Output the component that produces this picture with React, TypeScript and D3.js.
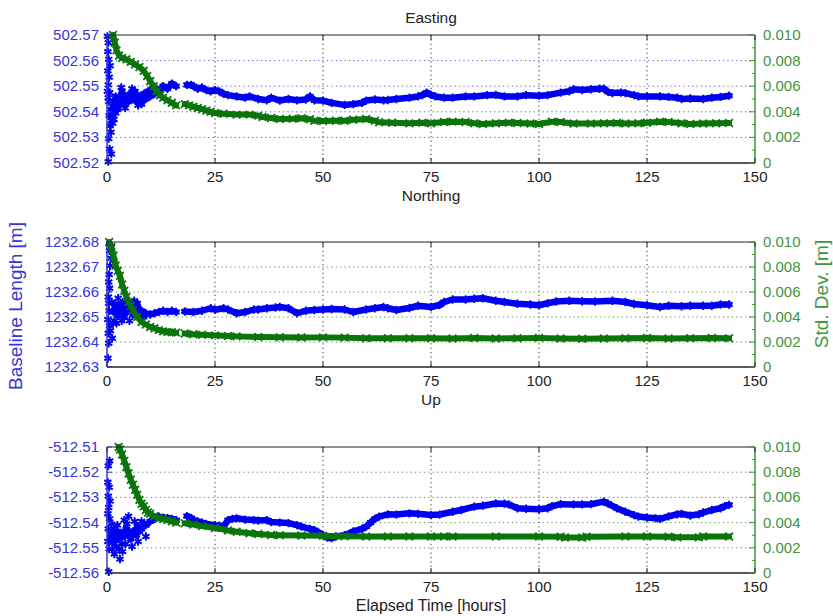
import * as d3 from "d3";

type Pt = [number, number];
const GAP: Pt = [NaN, NaN];

const X_TICKS = [0, 25, 50, 75, 100, 125, 150];
const STD_TICKS = [0, 0.002, 0.004, 0.006, 0.008, 0.01];
const STD_MINOR = [0.001, 0.003, 0.005, 0.007, 0.009];

const EAST_TICKS = [502.52, 502.53, 502.54, 502.55, 502.56, 502.57];
const NORTH_TICKS = [1232.63, 1232.64, 1232.65, 1232.66, 1232.67, 1232.68];
const UP_TICKS = [-512.56, -512.55, -512.54, -512.53, -512.52, -512.51];

// Easting
const eastScatter: Pt[] = [
  [0.1, 502.5695], [0.3, 502.567], [0.2, 502.5635], [0.4, 502.5605], [0.2, 502.556], [0.5, 502.5535],
  [0.3, 502.5505], [0.1, 502.548], [0.6, 502.5475], [0.4, 502.544], [0.8, 502.541], [0.5, 502.5385],
  [1.0, 502.5365], [0.7, 502.5345], [1.3, 502.5355], [0.9, 502.532], [0.4, 502.5295], [0.6, 502.5255],
  [1.0, 502.5235], [0.3, 502.5205], [1.2, 502.539], [1.6, 502.537], [2.0, 502.5395], [0.7, 502.558],
  [0.3, 502.5455], [2.6, 502.5425], [3.3, 502.5495], [4.2, 502.5415], [5.8, 502.549], [7.2, 502.5425],
];
const eastBase: Pt[] = [
  [1.5, 502.542], [2, 502.546], [2.5, 502.541], [3, 502.545], [3.5, 502.548], [4, 502.543], [4.5, 502.546],
  [5, 502.544], [5.5, 502.547], [6, 502.545], [6.5, 502.548], [7, 502.544], [7.5, 502.546], [8, 502.543],
  [8.5, 502.547], [9, 502.545], [9.5, 502.548], [10, 502.546], [10.5, 502.549], [11, 502.547], [11.5, 502.549],
  [12, 502.548], [13, 502.55], [14, 502.549], [15, 502.551], [16, 502.55], GAP,
  [18.5, 502.5505], [19.5, 502.5505], [20, 502.55], [21, 502.549], [22, 502.5495], [23, 502.5485], [24, 502.548],
  [25, 502.5485], [26, 502.548], [27, 502.547], [28, 502.5465], [30, 502.546], [32, 502.5455], [33, 502.546],
  [35, 502.545], [37, 502.5445], [38, 502.5455], [40, 502.5444], [42, 502.545], [44, 502.5445], [46, 502.5448],
  [47, 502.546], [48, 502.5445], [50, 502.5444], [52, 502.5435], [55, 502.5427], [57, 502.543], [59, 502.5435],
  [60, 502.5444], [62, 502.5448], [64, 502.5445], [65, 502.5446], [67, 502.545], [70, 502.5455], [72, 502.546],
  [73, 502.5465], [74, 502.5475], [75, 502.5466], [76, 502.546], [78, 502.5455], [80, 502.5455], [83, 502.546],
  [85, 502.546], [88, 502.5465], [90, 502.5466], [92, 502.546], [95, 502.546], [97, 502.5465], [100, 502.5463],
  [102, 502.5465], [105, 502.5475], [107, 502.548], [108, 502.5488], [110, 502.5485], [112, 502.5488],
  [114, 502.549], [115, 502.549], [116, 502.5478], [117, 502.5473], [119, 502.5475], [120, 502.5473],
  [122, 502.5465], [123, 502.546], [125, 502.546], [128, 502.546], [130, 502.5458], [132, 502.5455],
  [133, 502.545], [135, 502.5452], [138, 502.545], [140, 502.5455], [142, 502.5458], [144, 502.5463],
];
const eastStd: Pt[] = [
  [1.4, 0.01], [1.8, 0.0094], [2.2, 0.0088], [2.8, 0.0084], [3.5, 0.0082], [4.5, 0.0081], [5.5, 0.0079],
  [6.5, 0.0077], [7.5, 0.0075], [8.5, 0.0072], [9.3, 0.0068], [10, 0.0064], [10.8, 0.006], [11.5, 0.0056],
  [12.3, 0.0053], [13, 0.0051], [14, 0.0049], [15, 0.0047], [16, 0.0045], GAP,
  [18, 0.0046], [19, 0.0045], [20, 0.0044], [21, 0.0043], [22, 0.0042], [23, 0.0041], [24, 0.004], [25, 0.0039],
  [27, 0.00385], [30, 0.00378], [33, 0.00378], [35, 0.0037], [36, 0.0036], [38, 0.00352], [40, 0.00344],
  [43, 0.00346], [45, 0.0035], [47, 0.00342], [48, 0.0033], [50, 0.00328], [53, 0.0033], [55, 0.0033],
  [57, 0.00338], [60, 0.00344], [62, 0.0033], [63, 0.00318], [66, 0.00315], [70, 0.0031], [73, 0.00315],
  [75, 0.0031], [78, 0.0032], [80, 0.00323], [83, 0.0032], [85, 0.0031], [87, 0.00305], [90, 0.0031],
  [93, 0.00315], [95, 0.00313], [98, 0.00308], [100, 0.00305], [103, 0.00323], [105, 0.0032], [108, 0.00308],
  [112, 0.00308], [115, 0.0031], [118, 0.00313], [120, 0.00308], [123, 0.0031], [125, 0.00315], [128, 0.00323],
  [130, 0.0032], [133, 0.0031], [135, 0.00305], [138, 0.00308], [141, 0.0031], [144, 0.00313],
];

// Northing
const northScatter: Pt[] = [
  [0.2, 1232.6335], [0.4, 1232.6395], [0.3, 1232.6435], [0.6, 1232.6465], [0.2, 1232.649], [0.5, 1232.6525],
  [0.4, 1232.6555], [0.3, 1232.658], [0.6, 1232.6615], [0.4, 1232.664], [0.5, 1232.667], [0.7, 1232.6705],
  [0.9, 1232.6735], [0.6, 1232.6765], [1.0, 1232.678], [1.2, 1232.6415], [0.8, 1232.6445], [1.4, 1232.6475],
  [1.1, 1232.656], [1.7, 1232.6485], [2.2, 1232.6475], [2.6, 1232.6575], [3.4, 1232.6485], [4.3, 1232.6565],
  [5.2, 1232.6485], [6.3, 1232.6565],
];
const northBase: Pt[] = [
  [1.5, 1232.652], [2, 1232.655], [2.5, 1232.6505], [3, 1232.6545], [3.5, 1232.6555], [4, 1232.65],
  [4.5, 1232.6535], [5, 1232.6525], [5.5, 1232.655], [6, 1232.651], [6.5, 1232.6545], [7, 1232.6555],
  [7.5, 1232.6505], [8, 1232.6525], [8.5, 1232.65], [9, 1232.6515], [10, 1232.651], [11, 1232.6515],
  [12, 1232.652], [13, 1232.6525], [14, 1232.652], [15, 1232.6525], [16, 1232.652], GAP,
  [18, 1232.6522], [20, 1232.652], [22, 1232.6525], [24, 1232.6535], [25, 1232.6529], [27, 1232.6535],
  [28, 1232.653], [30, 1232.6515], [32, 1232.652], [34, 1232.653], [35, 1232.653], [37, 1232.6535],
  [39, 1232.6538], [40, 1232.654], [42, 1232.6535], [44, 1232.6515], [46, 1232.6525], [48, 1232.6528],
  [50, 1232.653], [52, 1232.6532], [55, 1232.653], [57, 1232.652], [60, 1232.653], [62, 1232.6535],
  [64, 1232.654], [65, 1232.6535], [67, 1232.6528], [70, 1232.6536], [72, 1232.6545], [75, 1232.654],
  [77, 1232.6548], [78, 1232.656], [80, 1232.657], [83, 1232.657], [85, 1232.6573], [87, 1232.6575],
  [90, 1232.6565], [92, 1232.656], [95, 1232.6553], [98, 1232.655], [100, 1232.6547], [102, 1232.6555],
  [104, 1232.6562], [107, 1232.6565], [110, 1232.6563], [113, 1232.6562], [117, 1232.6565], [120, 1232.656],
  [122, 1232.6552], [125, 1232.6547], [128, 1232.654], [130, 1232.6545], [133, 1232.6543], [135, 1232.6545],
  [138, 1232.6545], [140, 1232.6545], [142, 1232.655], [144, 1232.655],
];
const northStd: Pt[] = [
  [0.5, 0.01], [1, 0.0096], [1.5, 0.0089], [2, 0.0081], [2.5, 0.0077], [3, 0.0073], [3.5, 0.0066], [4, 0.0061],
  [4.5, 0.0056], [5, 0.0052], [5.5, 0.0049], [6, 0.00455], [7, 0.004], [8, 0.0036], [9, 0.0034], [10, 0.0032],
  [11, 0.0031], [12, 0.00295], [13, 0.00285], [14, 0.0028], [15, 0.00278], [16, 0.00275], GAP,
  [18, 0.00268], [20, 0.00262], [22, 0.00258], [25, 0.00253], [28, 0.00248], [30, 0.00245], [35, 0.0024],
  [40, 0.00238], [45, 0.00236], [50, 0.00237], [55, 0.00235], [60, 0.0023], [65, 0.0023], [70, 0.0023],
  [75, 0.0023], [80, 0.00228], [85, 0.00232], [90, 0.00228], [95, 0.0023], [100, 0.00233], [105, 0.00228],
  [110, 0.00226], [115, 0.00228], [120, 0.0023], [125, 0.00232], [130, 0.00228], [135, 0.0023], [140, 0.00232],
  [144, 0.0023],
];

// Up
const upScatter: Pt[] = [
  [0.3, -512.5175], [0.6, -512.5155], [0.2, -512.524], [0.5, -512.526], [0.3, -512.5295], [0.7, -512.5315],
  [0.4, -512.534], [0.2, -512.5365], [0.6, -512.5385], [0.3, -512.5425], [0.8, -512.5445], [0.2, -512.5475],
  [0.5, -512.5505], [0.4, -512.5595], [1.0, -512.5405], [1.3, -512.548], [1.7, -512.5525], [2.2, -512.5495],
  [2.6, -512.5455], [3.0, -512.5545], [3.4, -512.5485], [4.0, -512.539], [4.6, -512.5405], [5.2, -512.5445],
  [1.5, -512.5425], [2.0, -512.5445], [1.2, -512.5505], [2.8, -512.5505], [3.6, -512.5515], [4.3, -512.5485],
  [5.0, -512.5375], [5.8, -512.5495], [6.4, -512.5395], [7.2, -512.5475], [8.0, -512.5395], [9.0, -512.5455],
  [2.4, -512.541], [3.8, -512.5435], [6.8, -512.545],
];
const upBase: Pt[] = [
  [1, -512.546], [1.5, -512.544], [2, -512.547], [2.5, -512.5435], [3, -512.546], [3.5, -512.5445],
  [4, -512.5455], [4.5, -512.5425], [5, -512.5435], [5.5, -512.5465], [6, -512.5435], [6.5, -512.5445],
  [7, -512.5415], [7.5, -512.5435], [8, -512.5425], [8.5, -512.5405], [9, -512.541], [10, -512.5395],
  [11, -512.5385], [12, -512.5376], [13, -512.538], [14, -512.5382], [15, -512.5385], [16, -512.539], GAP,
  [18.5, -512.5374], [19.5, -512.5382], [20, -512.539], [21, -512.5395], [22, -512.54], [23, -512.5405],
  [25, -512.541], [26, -512.5412], [27, -512.5416], [28, -512.539], [29, -512.5385], [30, -512.5383],
  [32, -512.5388], [34, -512.539], [35, -512.5392], [37, -512.539], [38, -512.5398], [40, -512.54],
  [42, -512.5402], [44, -512.541], [45, -512.5416], [47, -512.5425], [48, -512.543], [49, -512.544],
  [50, -512.545], [51, -512.546], [52, -512.5462], [53, -512.5455], [55, -512.545], [57, -512.5435],
  [59, -512.5425], [60, -512.5416], [61, -512.54], [62, -512.5385], [63, -512.5376], [65, -512.5367],
  [67, -512.5368], [70, -512.5363], [72, -512.5365], [75, -512.537], [77, -512.5368], [80, -512.5357],
  [82, -512.535], [85, -512.5337], [87, -512.5333], [90, -512.5324], [92, -512.5325], [93, -512.5328],
  [95, -512.5343], [97, -512.5345], [100, -512.5347], [102, -512.5343], [103, -512.5335], [105, -512.5327],
  [108, -512.5328], [110, -512.5328], [112, -512.5327], [115, -512.5317], [116, -512.5325], [118, -512.5343],
  [120, -512.5357], [122, -512.537], [123, -512.5376], [125, -512.538], [127, -512.5383], [128, -512.5385],
  [130, -512.5375], [132, -512.5367], [133, -512.5365], [135, -512.5372], [137, -512.5367], [138, -512.536],
  [140, -512.535], [142, -512.5343], [143, -512.5335], [144, -512.533],
];
const upStd: Pt[] = [
  [2.7, 0.01], [3, 0.0098], [3.5, 0.0094], [4, 0.0089], [4.5, 0.0084], [5, 0.0079], [5.5, 0.0074], [6, 0.007],
  [6.5, 0.0066], [7, 0.0062], [7.5, 0.0058], [8, 0.0055], [8.5, 0.0053], [9, 0.005], [9.5, 0.0048], [10, 0.0047],
  [11, 0.0045], [12, 0.00435], [13, 0.00428], [14, 0.0042], [15, 0.0041], [16, 0.004], GAP,
  [18, 0.00395], [20, 0.00385], [22, 0.00372], [25, 0.00357], [28, 0.00338], [30, 0.00328], [33, 0.00315],
  [35, 0.0031], [38, 0.00302], [40, 0.003], [45, 0.00298], [50, 0.00295], [55, 0.00292], [60, 0.0029],
  [65, 0.00289], [70, 0.00289], [75, 0.0029], [78, 0.0029], [80, 0.00289], [90, 0.00289], [100, 0.00289],
  [105, 0.00287], [106, 0.00282], [110, 0.00282], [111, 0.00288], [120, 0.00289], [125, 0.00289],
  [130, 0.00288], [132, 0.00283], [137, 0.00283], [138, 0.00289], [144, 0.00289],
];

const BLUE = "#0000f0";
const GREEN = "#0b740b";
const BLUE_TXT = "#3535d8";
const GREEN_TXT = "#3c963c";
const FONT = "'Liberation Sans', Arial, Helvetica, sans-serif";

const x = d3.scaleLinear().domain([0, 150]).range([107, 755]);
const star = d3.symbol(d3.symbolAsterisk, 48)()!;
const cross = d3.symbol(d3.symbolTimes, 40)()!;

function Panel({ top, bottom, title, titleY, ticks, scatter, base, std, gridColor }: {
  top: number; bottom: number; title: string; titleY: number; ticks: number[];
  scatter: Pt[]; base: Pt[]; std: Pt[]; gridColor: string;
}) {
  const yL = d3.scaleLinear().domain([ticks[0], ticks[ticks.length - 1]]).range([bottom, top]);
  const yR = d3.scaleLinear().domain([0, 0.01]).range([bottom, top]);
  const [x0, x1] = x.range();
  const lineL = d3.line<Pt>().defined((d) => !isNaN(d[1])).x((d) => x(d[0])).y((d) => yL(d[1]));
  const lineR = d3.line<Pt>().defined((d) => !isNaN(d[1])).x((d) => x(d[0])).y((d) => yR(d[1]));
  const baseOk = base.filter((d) => !isNaN(d[1]));
  const stdOk = std.filter((d) => !isNaN(d[1]));
  return (
    <g>
      <text x={(x0 + x1) / 2} y={titleY} textAnchor="middle" fontSize={15.5} fill="#222">{title}</text>
      {/* grid */}
      {X_TICKS.slice(1, -1).map((t) => (
        <line key={"vx" + t} x1={x(t)} x2={x(t)} y1={top} y2={bottom} stroke="#333" strokeWidth={1} strokeDasharray="1.2,3.2" />
      ))}
      {STD_TICKS.slice(1, -1).map((t) => (
        <line key={"hg" + t} x1={x0} x2={x1} y1={yR(t)} y2={yR(t)} stroke={gridColor} strokeWidth={1} strokeDasharray="1.2,3.2" />
      ))}
      {/* data */}
      <path d={lineL(base) ?? ""} fill="none" stroke={BLUE} strokeWidth={6.5} strokeLinejoin="round" strokeLinecap="round" />
      {baseOk.map((d, i) => (
        <path key={"bs" + i} d={star} transform={`translate(${x(d[0])},${yL(d[1])})`} fill="none" stroke={BLUE} strokeWidth={1.8} />
      ))}
      {scatter.map((d, i) => (
        <path key={"sc" + i} d={star} transform={`translate(${x(d[0])},${yL(d[1])})`} fill="none" stroke={BLUE} strokeWidth={2} />
      ))}
      <path d={lineR(std) ?? ""} fill="none" stroke={GREEN} strokeWidth={6} strokeLinejoin="round" strokeLinecap="round" />
      {stdOk.map((d, i) => (
        <path key={"gs" + i} d={cross} transform={`translate(${x(d[0])},${yR(d[1])})`} fill="none" stroke={GREEN} strokeWidth={1.8} />
      ))}
      {/* frame */}
      <line x1={x0} x2={x1} y1={top} y2={top} stroke="#222" strokeWidth={1.2} />
      <line x1={x0} x2={x1} y1={bottom} y2={bottom} stroke="#222" strokeWidth={1.6} />
      <line x1={x0} x2={x0} y1={top} y2={bottom} stroke={BLUE_TXT} strokeWidth={1.5} />
      <line x1={x1} x2={x1} y1={top} y2={bottom} stroke={GREEN_TXT} strokeWidth={1.5} />
      {X_TICKS.map((t) => (
        <g key={"xt" + t}>
          <line x1={x(t)} x2={x(t)} y1={bottom} y2={bottom - 5} stroke="#222" />
          <line x1={x(t)} x2={x(t)} y1={top} y2={top + 5} stroke="#222" />
          <text x={x(t)} y={bottom + 19} textAnchor="middle" fontSize={15} fill="#222">{t}</text>
        </g>
      ))}
      {ticks.map((t) => (
        <g key={"yl" + t}>
          <line x1={x0} x2={x0 + 5} y1={yL(t)} y2={yL(t)} stroke={BLUE_TXT} />
          <text x={x0 - 8} y={yL(t) + 5} textAnchor="end" fontSize={15} fill={BLUE_TXT}>{t.toFixed(2)}</text>
        </g>
      ))}
      {STD_TICKS.map((t) => (
        <g key={"yr" + t}>
          <line x1={x1} x2={x1 - 6} y1={yR(t)} y2={yR(t)} stroke={GREEN_TXT} />
          <text x={x1 + 8} y={yR(t) + 5} textAnchor="start" fontSize={15} fill={GREEN_TXT}>{t === 0 ? "0" : t.toFixed(3)}</text>
        </g>
      ))}
      {STD_MINOR.map((t) => (
        <line key={"ym" + t} x1={x1} x2={x1 - 3} y1={yR(t)} y2={yR(t)} stroke={GREEN_TXT} />
      ))}
    </g>
  );
}

export default function App() {
  return (
    <svg width={833} height={616} style={{ position: "absolute", left: 0, top: 0, background: "#fff" }} fontFamily={FONT}>
      <rect width={833} height={616} fill="#fff" />
      <Panel top={35} bottom={163} title="Easting" titleY={23} ticks={EAST_TICKS}
        scatter={eastScatter} base={eastBase} std={eastStd} gridColor="#4a5ad8" />
      <Panel top={242} bottom={367} title="Northing" titleY={201} ticks={NORTH_TICKS}
        scatter={northScatter} base={northBase} std={northStd} gridColor="#3d9a3d" />
      <Panel top={447} bottom={573} title="Up" titleY={405} ticks={UP_TICKS}
        scatter={upScatter} base={upBase} std={upStd} gridColor="#3d9a3d" />
      <text x={431} y={611} textAnchor="middle" fontSize={16} fill="#222">Elapsed Time [hours]</text>
      <text transform="translate(22,306) rotate(-90)" textAnchor="middle" fontSize={19} fill={BLUE_TXT}>Baseline Length [m]</text>
      <text transform="translate(828,294) rotate(-90)" textAnchor="middle" fontSize={19} fill={GREEN_TXT}>Std. Dev. [m]</text>
    </svg>
  );
}
